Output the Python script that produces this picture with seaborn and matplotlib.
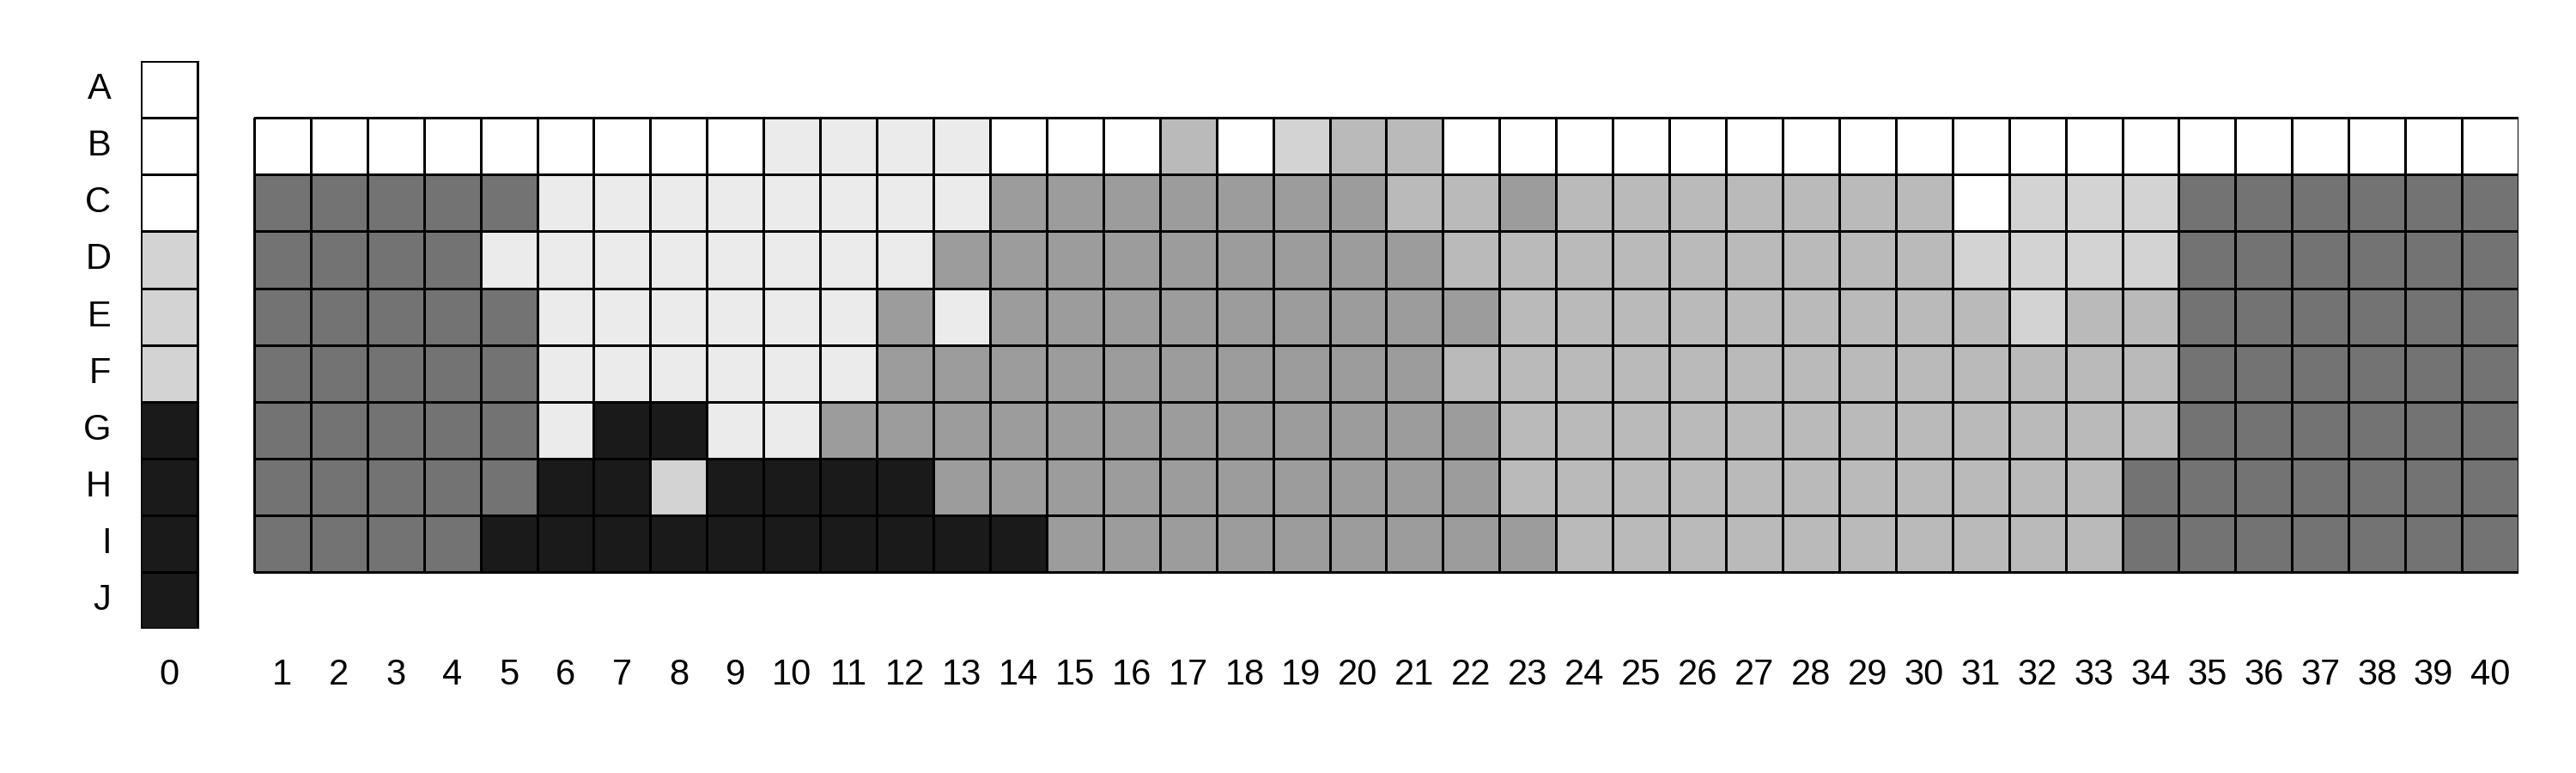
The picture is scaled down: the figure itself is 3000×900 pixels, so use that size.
import numpy as np
import pandas as pd
import seaborn as sns
from matplotlib import pyplot as plt
from matplotlib.colors import ListedColormap

# Row and column labels
row_labels = ["A", "B", "C", "D", "E", "F", "G", "H", "I", "J"]
col_labels = [str(i) for i in range(41)]

# Grey shades, indexed by category code 0..6
shades = ["#ffffff", "#ebebeb", "#d3d3d3", "#bababa", "#9c9c9c", "#737373", "#1a1a1a"]

# Column 0 covers rows A-J
col_zero = [0, 0, 0, 2, 2, 2, 6, 6, 6, 6]

# Columns 1-40, rows B-I
row_b = [0, 0, 0, 0, 0, 0, 0, 0, 0, 1, 1, 1, 1, 0, 0, 0, 3, 0, 2, 3,
         3, 0, 0, 0, 0, 0, 0, 0, 0, 0, 0, 0, 0, 0, 0, 0, 0, 0, 0, 0]
row_c = [5, 5, 5, 5, 5, 1, 1, 1, 1, 1, 1, 1, 1, 4, 4, 4, 4, 4, 4, 4,
         3, 3, 4, 3, 3, 3, 3, 3, 3, 3, 0, 2, 2, 2, 5, 5, 5, 5, 5, 5]
row_d = [5, 5, 5, 5, 1, 1, 1, 1, 1, 1, 1, 1, 4, 4, 4, 4, 4, 4, 4, 4,
         4, 3, 3, 3, 3, 3, 3, 3, 3, 3, 2, 2, 2, 2, 5, 5, 5, 5, 5, 5]
row_e = [5, 5, 5, 5, 5, 1, 1, 1, 1, 1, 1, 4, 1, 4, 4, 4, 4, 4, 4, 4,
         4, 4, 3, 3, 3, 3, 3, 3, 3, 3, 3, 2, 3, 3, 5, 5, 5, 5, 5, 5]
row_f = [5, 5, 5, 5, 5, 1, 1, 1, 1, 1, 1, 4, 4, 4, 4, 4, 4, 4, 4, 4,
         4, 3, 3, 3, 3, 3, 3, 3, 3, 3, 3, 3, 3, 3, 5, 5, 5, 5, 5, 5]
row_g = [5, 5, 5, 5, 5, 1, 6, 6, 1, 1, 4, 4, 4, 4, 4, 4, 4, 4, 4, 4,
         4, 4, 3, 3, 3, 3, 3, 3, 3, 3, 3, 3, 3, 3, 5, 5, 5, 5, 5, 5]
row_h = [5, 5, 5, 5, 5, 6, 6, 2, 6, 6, 6, 6, 4, 4, 4, 4, 4, 4, 4, 4,
         4, 4, 3, 3, 3, 3, 3, 3, 3, 3, 3, 3, 3, 5, 5, 5, 5, 5, 5, 5]
row_i = [5, 5, 5, 5, 6, 6, 6, 6, 6, 6, 6, 6, 6, 6, 4, 4, 4, 4, 4, 4,
         4, 4, 4, 3, 3, 3, 3, 3, 3, 3, 3, 3, 3, 5, 5, 5, 5, 5, 5, 5]
main_rows = [row_b, row_c, row_d, row_e, row_f, row_g, row_h, row_i]

# Build grid: column 0, one blank spacer column, then columns 1-40
grid = np.full((len(row_labels), len(col_labels) + 1), np.nan)
grid[:, 0] = col_zero
for i, r in enumerate(main_rows):
    grid[i + 1, 2:] = r

x_ticks = [col_labels[0], ""] + col_labels[1:]
df = pd.DataFrame(grid, index=row_labels, columns=range(grid.shape[1]))

sns.set_style("white")
plt.rcParams["font.family"] = ["Liberation Sans", "DejaVu Sans"]

fig = plt.figure(figsize=(30, 9), dpi=100)
ax = fig.add_axes([0.05467, 0.187, 0.923, 0.7337])

sns.heatmap(
    df,
    cmap=ListedColormap(shades),
    vmin=-0.5,
    vmax=6.5,
    cbar=False,
    linewidths=0.8,
    linecolor="black",
    xticklabels=x_ticks,
    yticklabels=row_labels,
    ax=ax,
)

# no outlines on the empty cells
mesh = ax.collections[0]
empty = np.isnan(grid).ravel()
edge = np.zeros((empty.size, 4))
edge[~empty, 3] = 1.0
mesh.set_edgecolor(edge)

ax.tick_params(length=0, pad=25, labelsize=30, colors="black")
plt.setp(ax.get_yticklabels(), rotation=0)
plt.setp(ax.get_xticklabels(), rotation=0)
ax.set_xlabel("")
ax.set_ylabel("")

fig.savefig("out.png", dpi=100)
